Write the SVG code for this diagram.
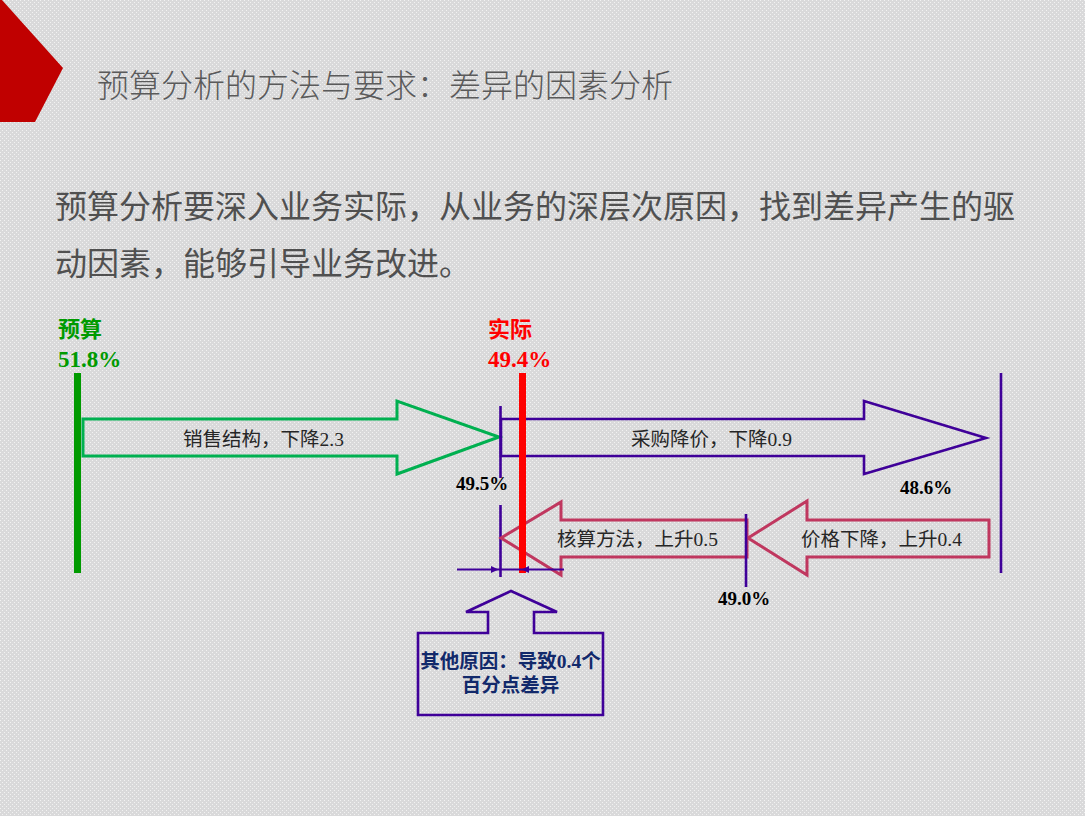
<svg xmlns="http://www.w3.org/2000/svg" width="1085" height="816" viewBox="0 0 1085 816">
<defs>
<pattern id="dots" width="4" height="4" patternUnits="userSpaceOnUse">
<rect width="4" height="4" fill="#d9d9da"/>
<rect x="0" y="0" width="1" height="1" fill="#f2f2f2"/>
<rect x="2" y="2" width="1" height="1" fill="#f2f2f2"/>
</pattern>
<style>
.cjk{font-family:'Noto Sans CJK SC','Noto Sans',sans-serif;}
.mix{font-family:'Liberation Serif','Noto Sans CJK SC',serif;}
.lbl{font-size:19.5px;fill:#262626;}
.pct{font-family:'Liberation Serif','Noto Sans CJK SC',serif;font-weight:bold;font-size:19px;fill:#000;}
.purple{stroke:#3f0099;stroke-width:2.6;fill:none;}
.green{stroke:#00b050;stroke-width:3;fill:none;}
.pink{stroke:#c0375f;stroke-width:3;fill:none;}
</style>
</defs>
<rect width="1085" height="816" fill="url(#dots)"/>
<polygon points="0,0 2,0 63,68 35,122 0,122" fill="#c00000"/>
<text x="97" y="97" class="cjk" font-size="32" font-weight="300" fill="#5a5a5a">预算分析的方法与要求：差异的因素分析</text>
<text class="cjk" font-size="32" fill="#505050"><tspan x="55" y="218">预算分析要深入业务实际，从业务的深层次原因，找到差异产生的驱</tspan><tspan x="55" y="275">动因素，能够引导业务改进。</tspan></text>

<g id="budget">
<text x="58" y="337" class="cjk" font-size="22" font-weight="bold" fill="#009a00">预算</text>
<text x="58" y="367" class="mix" font-size="23" font-weight="bold" fill="#009a00">51.8%</text>
<rect x="74" y="373" width="7" height="200" fill="#009a00"/>
</g>

<g id="arrow-sales">
<polygon class="green" points="83,419 397,419 397,401 499,437 397,474 397,456 83,456"/>
<text x="183" y="446" class="mix lbl">销售结构，下降2.3</text>
</g>

<g id="arrow-purchase">
<polygon class="purple" points="501,419 864,419 864,401 986,438 864,474 864,456 501,456"/>
<text x="631" y="446" class="mix lbl">采购降价，下降0.9</text>
</g>

<g id="marker-495">
<line class="purple" x1="500.5" y1="406" x2="500.5" y2="478"/>
<line class="purple" x1="500.5" y1="505" x2="500.5" y2="577"/>
<text x="456" y="490" class="pct">49.5%</text>
</g>

<g id="arrow-price">
<polygon class="pink" points="989,520 807,520 807,501 748,538 807,575 807,557 989,557"/>
<text x="801" y="546" class="mix lbl">价格下降，上升0.4</text>
</g>

<g id="arrow-accounting">
<polygon class="pink" points="747,520 561,520 561,502 501,538 561,575 561,557 747,557"/>
<text x="557" y="546" class="mix lbl">核算方法，上升0.5</text>
</g>

<g id="marker-490">
<line class="purple" x1="746" y1="514" x2="746" y2="587"/>
<text x="718" y="605" class="pct">49.0%</text>
</g>

<g id="marker-486">
<line class="purple" x1="1001" y1="373" x2="1001" y2="573"/>
<text x="900" y="494" class="pct">48.6%</text>
</g>

<g id="actual">
<text x="488" y="337" class="cjk" font-size="22" font-weight="bold" fill="#ff0000">实际</text>
<text x="488" y="367" class="mix" font-size="23" font-weight="bold" fill="#ff0000">49.4%</text>
<rect x="519" y="373" width="7" height="200" fill="#ff0000"/>
</g>

<g id="connectors">
<line x1="457" y1="569.5" x2="564" y2="569.5" stroke="#3f0099" stroke-width="2.2"/>
<polygon points="498.5,569.5 491,566 491,573" fill="#3f0099"/>
<polygon points="521.5,569.5 529,566 529,573" fill="#3f0099"/>
</g>

<g id="other-reasons">
<polygon class="purple" points="418,633 488,633 488,612 466,612 511,591 557,612 534,612 534,633 603,633 603,715 418,715"/>
<text class="mix" font-size="19.5" font-weight="bold" fill="#12296b" text-anchor="middle"><tspan x="510.5" y="668">其他原因：导致0.4个</tspan><tspan x="510.5" y="692">百分点差异</tspan></text>
</g>
</svg>
